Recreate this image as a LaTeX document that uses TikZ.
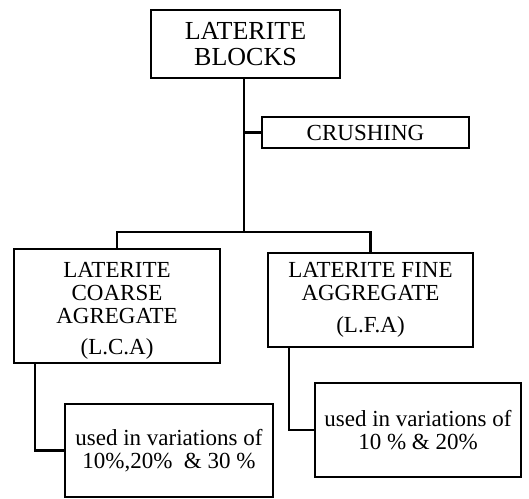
\documentclass[tikz,border=0pt]{standalone}
\usepackage{fontspec}
\setmainfont{Liberation Serif}
\usetikzlibrary{calc}
\tikzset{
  blockbox/.style={draw, line width=2.8pt, align=center, inner sep=0pt,
    font=\fontsize{23}{23}\selectfont},
  link/.style={line width=2.8pt},
}

\begin{document}
\begin{tikzpicture}[x=1pt,y=-1pt]
		%%%%% START %%%%%
		\useasboundingbox (0,0) rectangle (529,498);
		
		\node[blockbox, minimum width=189pt, minimum height=68pt, font=\fontsize{26}{26}\selectfont] (blocks) at (245.5,44) {LATERITE\\BLOCKS};
		
		\node[blockbox, minimum width=207pt, minimum height=31pt] (crush) at (365.5,132.5) {CRUSHING};
		
		\node[blockbox, minimum width=206pt, minimum height=114pt] (lca) at (117,306) {\rule{0pt}{24pt}LATERITE\\COARSE\\AGREGATE\\[8pt](L.C.A)};
		\node[blockbox, minimum width=205pt, minimum height=94pt] (lfa) at (370.5,300) {LATERITE FINE\\AGGREGATE\\[9pt](L.F.A)};
		
		\node[blockbox, minimum width=208pt, minimum height=93pt] (usedc) at (169,450.5) {used in variations of\\10\%,20\% \ \& 30 \%};
		\node[blockbox, minimum width=206pt, minimum height=94pt] (usedf) at (418,430) {used in variations of\\10 \% \& 20\%};
		
		\coordinate (split) at (244,232);
		\draw[link] (split |- blocks.south) -- (split);
		\draw[link] (split |- crush.west) -- (crush.west);
		\draw[link] (lca.north) |- (split) -| (lfa.north);
		
		\draw[link] ([xshift=-82pt]lca.south) |- (usedc.west);
		\draw[link] ([xshift=-81.5pt]lfa.south) |- (usedf.west);
		%%%%% END %%%%%
	\end{tikzpicture}
\end{document}
